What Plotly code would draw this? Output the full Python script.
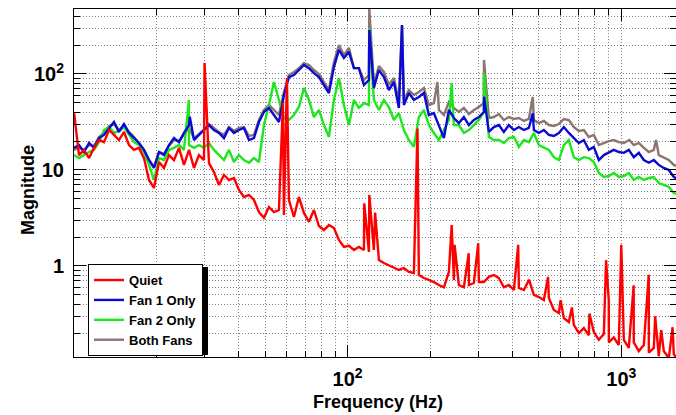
import plotly.graph_objects as go

# ---- data ----
FREQ = [
    10.0, 10.43, 10.88, 11.35, 11.83, 12.34, 12.87, 13.43, 14.00, 14.60,
    15.23, 15.89, 16.57, 17.28, 18.02, 18.80, 19.60, 20.45, 21.32, 22.24,
    23.20, 24.19, 25.23, 26.32, 27.45, 28.62, 29.85, 31.14, 32.47, 33.87,
    35.32, 36.84, 38.42, 40.07, 41.79, 43.59, 45.46, 47.41, 49.45, 51.57,
    53.79, 56.10, 58.51, 61.02, 63.64, 66.38, 69.23, 72.20, 75.30, 78.54,
    81.91, 85.43, 89.10, 92.93, 96.92, 101.1, 105.4, 109.9, 114.7, 119.6,
    124.7, 130.1, 135.7, 141.5, 147.6, 153.9, 160.5, 167.4, 174.6, 182.1,
    190.0, 198.1, 206.6, 215.5, 224.8, 234.4, 244.5, 255.0, 266.0, 277.4,
    289.3, 301.7, 314.7, 328.2, 342.3, 357.0, 372.3, 388.3, 405.0, 422.4,
    440.6, 459.5, 479.2, 499.8, 521.3, 543.7, 567.0, 591.4, 616.8, 643.3,
    670.9, 699.7, 729.8, 761.1, 793.8, 827.9, 863.5, 900.6, 939.2, 979.6,
    1021.7, 1065.6, 1111, 1159, 1209, 1261, 1315, 1371, 1430, 1492,
    1556, 1623,
]

QUIET = [
    40, 14.3, 16.2, 13.3, 17.0, 20.5, 19.5, 26.1, 23.2, 20.5,
    24.9, 18.2, 16.2, 17.0, 13.3, 7.87, 6.5, 12.1, 10.5, 14.3,
    12.7, 17.0, 11.3, 16.2, 10.5, 14.3, 12.7, 11.8, 9.5, 6.98,
    8.87, 7.87, 8.26, 6.19, 5.23, 5.49, 4.87, 3.65, 3.17, 4.12,
    3.65, 3.83, 3.40, 4.87, 3.24, 5.23, 3.57, 2.88, 3.83, 2.61,
    2.37, 2.67, 2.49, 1.87, 1.58, 1.62, 1.47, 1.58, 1.47, 1.40,
    1.47, 1.155, 1.075, 1.02, 0.97, 0.909, 0.953, 0.866, 0.846, 0.806,
    0.75, 0.715, 0.68, 0.634, 0.60, 0.866, 0.715, 0.634, 0.60, 0.634,
    0.665, 0.68, 0.68, 0.77, 0.806, 0.75, 0.60, 0.634, 0.562, 0.59,
    0.562, 0.70, 0.499, 0.475, 0.442, 0.464, 0.348, 0.324, 0.287, 0.261,
    0.243, 0.20, 0.225, 0.19, 0.205, 0.17, 0.195, 0.16, 0.18, 0.15,
    0.17, 0.14, 0.16, 0.13, 0.15, 0.125, 0.14, 0.115, 0.13, 0.11,
    0.12, 0.105,
]
FAN1 = [
    17.0, 18.2, 15.4, 19.1, 17.0, 21.5, 23.2, 27.4, 31.6, 24.9,
    30.1, 24.3, 21.5, 19.1, 16.2, 12.7, 10.5, 15.4, 14.3, 18.2,
    21.5, 19.5, 24.3, 29.4, 20.5, 23.2, 26.1, 29.4, 26.1, 24.3,
    21.5, 27.4, 24.3, 26.1, 27.4, 20.5, 21.5, 31.6, 40.2, 44.3,
    37.4, 31.6, 60.0, 93.0, 97.6, 110, 124, 115, 102, 93.0,
    76.8, 63.4, 118, 178, 147, 170, 115, 115, 76.8, 86.6,
    71.5, 110, 93.0, 68.1, 82.5, 44.3, 47.5, 63.4, 53.6, 57.6,
    63.4, 37.4, 39.2, 29.4, 21.5, 42.2, 34.8, 30.8, 35.6, 29.4,
    33.2, 35.6, 40.2, 24.9, 28.0, 29.4, 24.9, 29.4, 26.1, 28.0,
    26.1, 27.4, 26.1, 24.3, 26.1, 23.2, 22.6, 24.3, 28.0, 24.3,
    21.5, 19.1, 20.5, 16.2, 17.4, 12.7, 14.3, 15.1, 16.2, 15.4,
    15.1, 16.2, 13.6, 15.1, 12.7, 11.9, 12.7, 11.3, 10.5, 10.0,
    8.45, 8.0,
]
FAN2 = [
    14.3, 13.3, 14.3, 15.4, 16.2, 19.5, 26.1, 28.0, 24.3, 25.5,
    28.0, 23.2, 19.5, 18.2, 15.4, 11.3, 7.87, 13.3, 12.7, 16.2,
    17.0, 18.2, 16.2, 18.2, 17.0, 18.2, 17.0, 19.1, 16.2, 14.3,
    12.7, 16.2, 12.1, 14.3, 12.7, 11.9, 13.3, 12.1, 29.4, 47.5,
    82.5, 53.6, 34.8, 33.2, 37.4, 45.3, 71.4, 53.6, 35.6, 42.2,
    29.4, 22.1, 53.6, 90.9, 47.5, 29.4, 53.6, 44.3, 49.8, 47.5,
    53.6, 42.2, 53.6, 45.3, 33.2, 39.2, 26.1, 20.5, 17.4, 35.6,
    42.2, 29.4, 24.3, 20.5, 26.1, 33.2, 29.4, 29.4, 24.3, 26.1,
    29.4, 33.2, 40.2, 22.1, 20.5, 20.5, 19.1, 21.5, 22.1, 17.4,
    20.5, 19.5, 24.3, 18.2, 17.0, 16.2, 13.6, 12.7, 18.2, 20.5,
    13.6, 12.7, 13.6, 13.3, 12.1, 9.3, 8.45, 8.66, 9.3, 8.45,
    8.66, 9.3, 7.87, 8.45, 7.87, 8.26, 8.45, 7.32, 6.98, 6.65,
    5.76, 5.5,
]
BOTH = [
    16.2, 17.0, 16.2, 18.2, 17.8, 22.1, 24.3, 28.7, 30.1, 26.1,
    29.4, 24.9, 22.1, 19.1, 16.2, 12.7, 10.8, 15.4, 14.7, 17.8,
    20.5, 20.0, 23.2, 27.4, 21.5, 23.8, 26.1, 30.1, 27.4, 24.9,
    23.2, 28.0, 25.5, 27.4, 28.0, 22.6, 23.2, 33.2, 42.2, 47.5,
    42.2, 37.4, 65.0, 97.6, 105, 115, 130, 124, 110, 100,
    82.5, 68.1, 133, 200, 158, 187, 115, 115, 86.6, 97.6,
    78.6, 121, 105, 76.8, 90.9, 51.1, 53.6, 68.1, 60.4, 65.0,
    71.5, 47.5, 49.8, 42.2, 37.4, 51.1, 44.3, 40.2, 44.3, 38.3,
    42.2, 45.3, 49.8, 34.8, 35.6, 38.3, 33.2, 35.6, 34.0, 34.8,
    32.4, 34.0, 33.2, 30.8, 32.4, 29.4, 28.7, 30.1, 34.0, 33.2,
    28.0, 25.5, 26.1, 22.1, 23.2, 18.2, 19.1, 20.0, 20.5, 19.5,
    19.1, 20.5, 18.2, 19.1, 17.0, 15.4, 16.2, 14.3, 13.6, 12.7,
    11.3, 10.8,
]

# narrow line peaks (frequency, magnitude)
QUIET_PEAK_F = [30.0, 58.0, 60.0, 115.0, 120.0, 126.0, 180.0, 240.0, 246.0, 277.0,
                300.0, 420.0, 460.0, 540.0, 600.0, 660.0, 765.0, 880.0, 900.0, 1000.0,
                1110.0, 1260.0, 1330.0, 1400.0, 1540.0]
QUIET_PEAK_V = [130, 50, 90, 4.5, 5.5, 3.6, 27, 2.67, 1.66, 1.36,
                1.72, 1.66, 0.72, 0.77, 0.44, 0.37, 0.32, 1.15, 0.44, 1.66,
                0.63, 0.81, 0.30, 0.215, 0.23]
FAN1_PEAK_F = [26.5, 120.0, 158.0, 315.0, 475.0]
FAN1_PEAK_V = [36, 287, 323, 58, 39]
FAN2_PEAK_F = [26.3, 120.0, 240.0, 315.0]
FAN2_PEAK_V = [53.6, 300, 80.5, 102]
BOTH_PEAK_F = [120.0, 158.0, 213.0, 315.0, 475.0, 1070.0, 1340.0]
BOTH_PEAK_V = [480, 323, 82.5, 140, 57.6, 20.5, 20.5]

NAMES = ["Quiet", "Fan 1 Only", "Fan 2 Only", "Both Fans"]
COLORS = ["#ff0000", "#0a0ad2", "#1ee61e", "#8c7470"]

X_TICKS = [100, 1000]
X_TICKTEXT = ["10<sup>2</sup>", "10<sup>3</sup>"]
Y_TICKS = [1, 10, 100]
Y_TICKTEXT = ["1", "10", "10<sup>2</sup>"]


def merged(base, peak_f, peak_v):
    pts = list(zip(FREQ, base)) + list(zip(peak_f, peak_v))
    pts.sort(key=lambda p: p[0])
    return [p[0] for p in pts], [p[1] for p in pts]


series = [
    (QUIET, QUIET_PEAK_F, QUIET_PEAK_V),
    (FAN1, FAN1_PEAK_F, FAN1_PEAK_V),
    (FAN2, FAN2_PEAK_F, FAN2_PEAK_V),
    (BOTH, BOTH_PEAK_F, BOTH_PEAK_V),
]

fig = go.Figure()
# draw "Both Fans" first so that Quiet ends on top
for i in [3, 2, 1, 0]:
    base, pf, pv = series[i]
    xs, ys = merged(base, pf, pv)
    fig.add_trace(go.Scatter(x=xs, y=ys, mode="lines", name=NAMES[i],
                             line=dict(color=COLORS[i], width=2.4)))

FONT = "Liberation Sans"
minor_x = [20, 30, 40, 50, 60, 70, 80, 90, 200, 300, 400, 500, 600, 700, 800, 900]
minor_y = [0.2, 0.3, 0.4, 0.5, 0.6, 0.7, 0.8, 0.9, 2, 3, 4, 5, 6, 7, 8, 9,
           20, 30, 40, 50, 60, 70, 80, 90, 200, 300, 400]

axis_common = dict(
    type="log", showline=True, linecolor="black", linewidth=1, mirror="ticks",
    ticks="inside", ticklen=12, tickwidth=1, tickcolor="black",
    showgrid=True, gridcolor="#808080", gridwidth=1, griddash="1px,2px",
    zeroline=False,
    tickfont=dict(family=FONT, size=20, color="black", weight="bold"),
)

# legend drop shadow (ROOT style), in paper coordinates
SHADOW = dict(type="rect", xref="paper", yref="paper",
              x0=(91 - 74) / 602, x1=(208 - 74) / 602,
              y0=(357 - 355) / 348, y1=(357 - 267) / 348,
              fillcolor="black", line=dict(width=0), layer="above")

fig.update_layout(
    width=676, height=415,
    margin=dict(l=74, r=0, t=9, b=58),
    paper_bgcolor="white", plot_bgcolor="white",
    font=dict(family=FONT, color="black"),
    xaxis=dict(range=[1, 3.2], tickmode="array", tickvals=X_TICKS, ticktext=X_TICKTEXT,
               minor=dict(tickvals=minor_x, ticks="inside", ticklen=6, tickcolor="black",
                          showgrid=True, gridcolor="#808080", griddash="1px,2px"),
               ticklabelstandoff=4,
               **axis_common),
    yaxis=dict(range=[-0.948, 2.677], tickmode="array", tickvals=Y_TICKS, ticktext=Y_TICKTEXT,
               minor=dict(tickvals=minor_y, ticks="inside", ticklen=6, tickcolor="black",
                          showgrid=True, gridcolor="#808080", griddash="1px,2px"),
               ticklabelstandoff=5,
               **axis_common),
    showlegend=True,
    legend=dict(x=0.0233, y=0.267, xanchor="left", yanchor="top",
                bgcolor="white", bordercolor="black", borderwidth=1,
                traceorder="reversed", itemwidth=30, tracegroupgap=0,
                font=dict(family=FONT, size=13, color="black", weight="bold")),
    shapes=[SHADOW],
    annotations=[
        dict(text="<b>Magnitude</b>", xref="paper", yref="paper", x=0, y=0.48,
             xshift=-46, xanchor="center", yanchor="middle", textangle=-90,
             showarrow=False, font=dict(family=FONT, size=18, color="black")),
        dict(text="<b>Frequency (Hz)</b>", xref="paper", yref="paper", x=0.505, y=0,
             yshift=-45, xanchor="center", yanchor="middle",
             showarrow=False, font=dict(family=FONT, size=18, color="black")),
    ],
)

fig.write_html("out.html")
